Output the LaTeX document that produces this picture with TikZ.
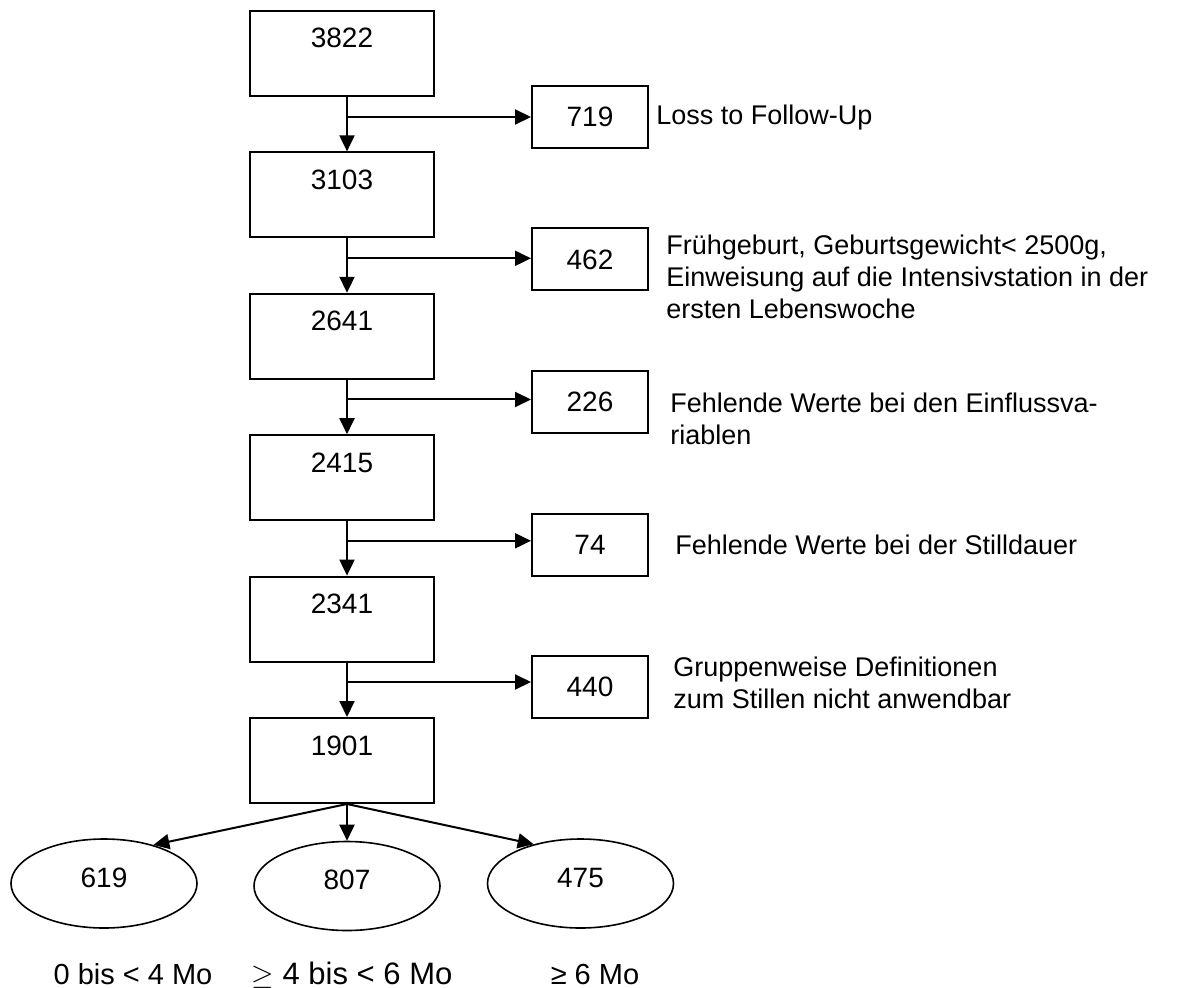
\documentclass[tikz,border=0pt]{standalone}
\usepackage{fontspec}
\setmainfont{Liberation Sans}
\usetikzlibrary{arrows.meta,shapes.geometric}

\begin{document}
\begin{tikzpicture}[x=0.5pt, y=-0.5pt,
    box/.style={draw, line width=1pt, minimum width=92pt, minimum height=42.5pt,
        font=\fontsize{14}{16}\selectfont, text height=10pt, text depth=15.5pt},
    drop/.style={draw, line width=1pt, minimum width=58pt, minimum height=31pt,
        font=\fontsize{14}{16}\selectfont},
    grp/.style={ellipse, draw, line width=0.8pt, minimum width=93pt, minimum height=44.5pt,
        font=\fontsize{14}{16}\selectfont, text height=10pt, text depth=6.5pt},
    note/.style={align=left, inner sep=0pt, font=\fontsize{13.5}{16}\selectfont},
    arr/.style={-{Triangle[length=8pt, width=7.5pt]}, line width=1pt}]
    \useasboundingbox (0,0) rectangle (1197,988);

    % Stichprobe
    \node[box] (n1) at (342,53.5) {3822};
    \node[box] (n2) at (342,194.9) {3103};
    \node[box] (n3) at (342,336.3) {2641};
    \node[box] (n4) at (342,477.7) {2415};
    \node[box] (n5) at (342,619.1) {2341};
    \node[box] (n6) at (342,760.5) {1901};

    % Ausschluesse
    \node[drop] (s1) at (590,117) {719};
    \node[drop] (s2) at (590,259.5) {462};
    \node[drop] (s3) at (590,402) {226};
    \node[drop] (s4) at (590,544.5) {74};
    \node[drop] (s5) at (590,687) {440};

    \node[note, anchor=west] (t1) at (656,118) {Loss to Follow-Up};
    \node[note, anchor=north west] (t2) at (666,235) {Frühgeburt, Geburtsgewicht< 2500g,\\Einweisung auf die Intensivstation in der\\ersten Lebenswoche};
    \node[note, anchor=north west] (t3) at (670,393) {Fehlende Werte bei den Einflussva-\\riablen};
    \node[note, anchor=west] (t4) at (675,545) {Fehlende Werte bei der Stilldauer};
    \node[note, anchor=north west] (t5) at (673,657) {Gruppenweise Definitionen\\zum Stillen nicht anwendbar};

    % Pfeile nach unten
    \draw[arr] ([xshift=2.5pt]n1.south) -- ([xshift=2.5pt]n2.north);
    \draw[arr] ([xshift=2.5pt]n2.south) -- ([xshift=2.5pt]n3.north);
    \draw[arr] ([xshift=2.5pt]n3.south) -- ([xshift=2.5pt]n4.north);
    \draw[arr] ([xshift=2.5pt]n4.south) -- ([xshift=2.5pt]n5.north);
    \draw[arr] ([xshift=2.5pt]n5.south) -- ([xshift=2.5pt]n6.north);

    % Abzweigungen
    \coordinate (k1) at (347,117);
    \coordinate (k2) at (347,258.3);
    \coordinate (k3) at (347,399.5);
    \coordinate (k4) at (347,540.8);
    \coordinate (k5) at (347,682);
    \draw[arr] (k1) -- (k1 -| s1.west);
    \draw[arr] (k2) -- (k2 -| s2.west);
    \draw[arr] (k3) -- (k3 -| s3.west);
    \draw[arr] (k4) -- (k4 -| s4.west);
    \draw[arr] (k5) -- (k5 -| s5.west);

    % Stilldauer-Gruppen
    \node[grp] (e1) at (104,883.5) {619};
    \node[grp] (e2) at (347,886) {807};
    \node[grp] (e3) at (580.5,883.5) {475};

    \coordinate (gabel) at ([xshift=2.5pt]n6.south);
    \draw[arr] (gabel) -- (e1.38);
    \draw[arr] (gabel) -- (e2.north);
    \draw[arr] (gabel) -- (e3.140);

    \node[anchor=base, font=\fontsize{14.5}{16}\selectfont] (l1) at (133,984) {0 bis < 4 Mo};
    \node[anchor=base, font=\fontsize{15.5}{18}\selectfont] (l2) at (352,984) {$\geq$ 4 bis < 6 Mo};
    \node[anchor=base, font=\fontsize{14.5}{16}\selectfont] (l3) at (595,984) {≥ 6 Mo};
\end{tikzpicture}
\end{document}
